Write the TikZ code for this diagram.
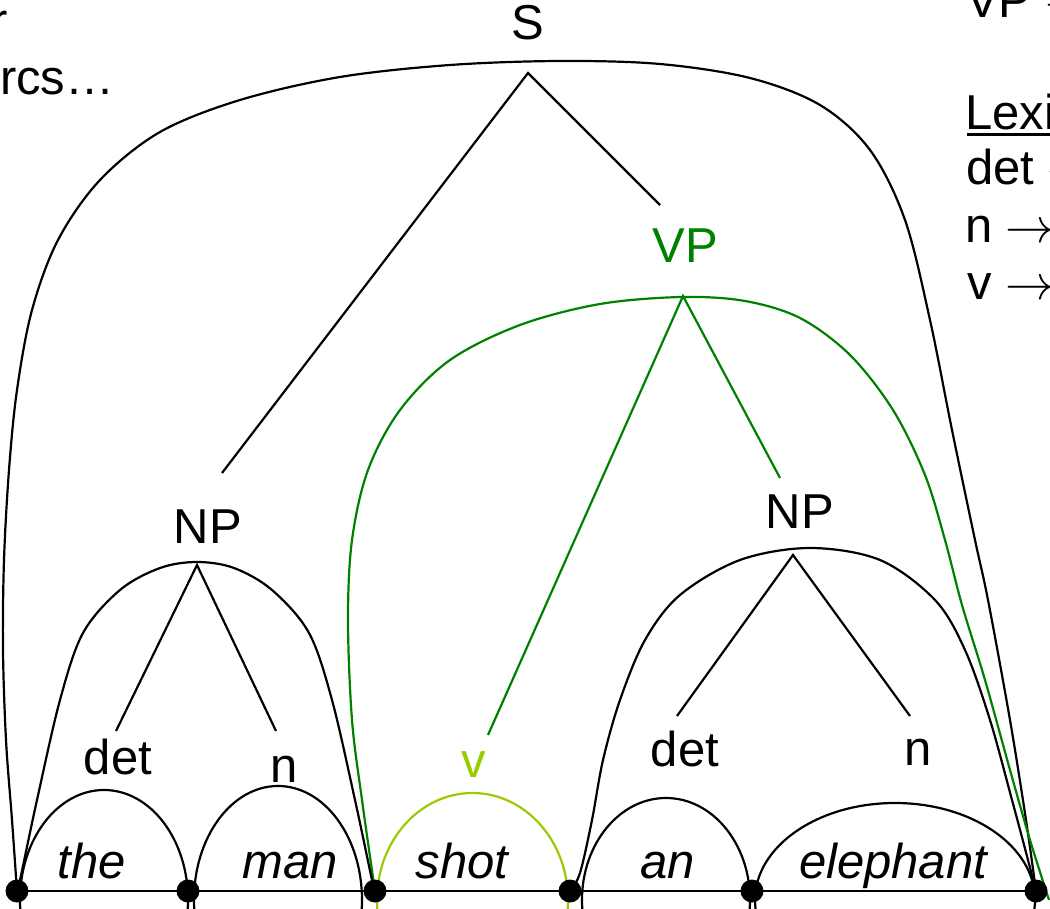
\RequirePackage{fix-cm}
\documentclass[tikz,border=0pt]{standalone}
\usepackage{fontspec}
\setmainfont{Liberation Sans}
\definecolor{vpgreen}{RGB}{0,128,0}
\definecolor{vgreen}{RGB}{153,204,0}
\begin{document}
\begin{tikzpicture}[x=1pt,y=-1pt,line width=2.2pt,
  lbl/.style={font=\fontsize{49}{58}\selectfont,inner sep=0pt,anchor=base},
  word/.style={font=\fontsize{49}{58}\selectfont\itshape,inner sep=0pt,anchor=base},
  side/.style={font=\fontsize{49}{58}\selectfont,inner sep=0pt,anchor=base west},
  dotnode/.style={circle,fill=black,inner sep=0pt,minimum size=23pt},
  treeline/.style={line width=2.2pt},
  bigarc/.style={line width=2.2pt,smooth,tension=0.55}]
\useasboundingbox (0,0) rectangle (1050,909);
% dot positions
\coordinate (p1) at (17,891);
\coordinate (p2) at (188,891);
\coordinate (p3) at (375,891);
\coordinate (p4) at (570,891);
\coordinate (p5) at (752,891);
\coordinate (p6) at (1036,891);
% word arc centres
\coordinate (c1) at (104,900);
\coordinate (c2) at (278,900);
\coordinate (c3) at (472.5,900);
\coordinate (c4) at (666,900);
\coordinate (c5) at (895,900);
% baseline
\draw (p1) -- (p6);
% word arcs
\draw (c1) ellipse [x radius=84,y radius=110];
\draw (c2) ellipse [x radius=84,y radius=114];
\draw[vgreen] (c3) ellipse [x radius=95.5,y radius=107];
\draw (c4) ellipse [x radius=84,y radius=102];
\draw (c5) ellipse [x radius=140,y radius=97];
% S arc
\draw plot[bigarc] coordinates {(p1) (12,820) (6,740) (3,650) (4,560) (9,470) (17,390) (32,310) (58,240) (100,180) (160,132) (240,100) (340,77) (450,65) (560,61) (660,64) (750,78) (820,105) (870,150) (905,220) (930,320) (952,430) (975,540) (988,600) (1010,720) (1026,820) (p6)};
% VP arc
\draw[vpgreen] plot[bigarc] coordinates {(p3) (362,800) (352,720) (348,620) (352,540) (368,470) (400,410) (450,360) (520,325) (600,304) (682,297) (745,301) (800,318) (850,355) (893,410) (925,475) (945,540) (962,605) (985,680) (1010,770) (1030,840) (1049,900)};
% NP left arc
\draw plot[bigarc] coordinates {(p1) (20,880) (37,800) (60,700) (83,633) (120,590) (160,568) (197,562) (234,568) (272,590) (309,633) (332,700) (355,800) (372,880) (p3)};
% NP right arc
\draw plot[bigarc] coordinates {(p4) (580,873) (592,820) (603,760) (620,700) (645,640) (680,595) (740,560) (810,548) (880,560) (935,600) (965,650) (990,720) (1012,800) (1028,860) (p6)};
% dots
\foreach \i in {1,...,6} \node[dotnode] (dot\i) at (p\i) {};
% labels
\node[lbl] (S) at (528,40) {S};
\node[lbl,text=vpgreen] (VP) at (685,263) {VP};
\node[lbl] (NPl) at (208,543) {NP};
\node[lbl] (NPr) at (800,528) {NP};
\node[lbl] (detl) at (118,774) {det};
\node[lbl] (nl) at (284,782) {n};
\node[lbl,text=vgreen] (v) at (474,777) {v};
\node[lbl] (detr) at (685,766) {det};
\node[lbl] (nr) at (918,765) {n};
% words
\node[word] (w1) at (92,878) {the};
\node[word] (w2) at (290,878) {man};
\node[word] (w3) at (462,878) {shot};
\node[word] (w4) at (668,878) {an};
\node[word] (w5) at (893,878) {elephant};
% tree lines
\coordinate (Sa) at (528,73);
\coordinate (Se1) at (222,473);
\coordinate (Se2) at (660,205);
\coordinate (VPa) at (683,296);
\coordinate (VPe1) at (488,735);
\coordinate (VPe2) at (780,478);
\coordinate (NPla) at (197,565);
\coordinate (NPle1) at (116,731);
\coordinate (NPle2) at (276,731);
\coordinate (NPra) at (793,555);
\coordinate (NPre1) at (677,716);
\coordinate (NPre2) at (910,716);
\draw[treeline] (Se1) -- (Sa) -- (Se2);
\draw[treeline,vpgreen] (VPe1) -- (VPa) -- (VPe2);
\draw[treeline] (NPle1) -- (NPla) -- (NPle2);
\draw[treeline] (NPre1) -- (NPra) -- (NPre2);
% side texts
\node[side] (t1) at (-10,38) {r};
\node[side] (t2) at (-1,95) {rcs…};
\node[side] (r1) at (965,18) {VP $\rightarrow$};
\node[side] (r2) at (964,130) {Lexi};
\coordinate (u1) at (967,135);
\coordinate (u2) at (1050,135);
\draw[line width=3pt] (u1) -- (u2);
\node[side] (r3) at (965,185) {det $\rightarrow$};
\node[side] (r4) at (964,243) {n $\rightarrow$};
\node[side] (r5) at (966,300) {v $\rightarrow$};
\end{tikzpicture}
\end{document}
